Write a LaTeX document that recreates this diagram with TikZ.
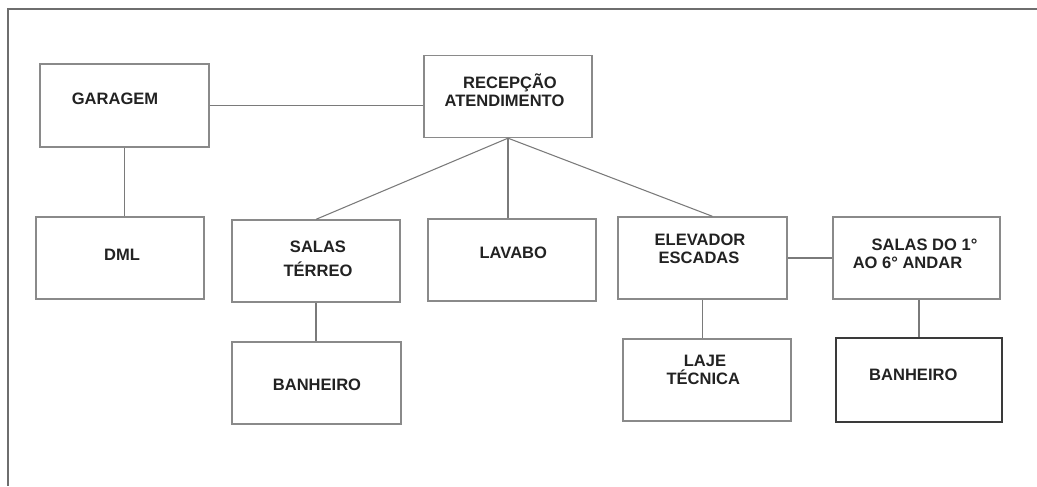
\documentclass[tikz,border=0pt]{standalone}
\usepackage{fontspec}
\setmainfont{Liberation Sans}
\definecolor{framegray}{HTML}{6E6E6E}
\definecolor{boxgray}{HTML}{8A8A8A}
\definecolor{darkbox}{HTML}{3A3A3A}
\definecolor{linegray}{HTML}{7A7A7A}
\definecolor{textgray}{HTML}{222222}
\begin{document}
\begin{tikzpicture}[x={(0.75pt,0)},y={(0,-0.75pt)},
  box/.style={draw=boxgray,line width=1pt,minimum width=126pt,minimum height=61.5pt,inner sep=0pt},
  txt/.style={font=\fontsize{12.4pt}{14pt}\selectfont\bfseries,text=textgray,anchor=base,inner sep=0pt},
  conn/.style={draw=linegray,line width=0.8pt},
  framel/.style={draw=framegray,line width=1.2pt}]
\useasboundingbox (0,0) rectangle (1037,486);
% frame
\coordinate (fc) at (8,9);
\coordinate (fr) at (1037,9);
\coordinate (fb) at (8,486);
\draw[framel] (fr) -- (fc) -- (fb);
% boxes
\node[box,minimum width=126.75pt,minimum height=62.25pt] (g) at (124.5,105.5) {};
\node[box,minimum height=61.5pt] (r) at (508,96.5) {};
\node[box] (d) at (120,258) {};
\node[box] (st) at (316,261) {};
\node[box,minimum width=126.75pt] (b1) at (316.5,383) {};
\node[box] (lav) at (512,260) {};
\node[box,minimum width=126.75pt] (e) at (702.5,258) {};
\node[box] (lj) at (707,380) {};
\node[box,minimum width=125.25pt] (s6) at (916.5,258) {};
\node[box,draw=darkbox,minimum width=124.5pt,minimum height=63pt] (b2) at (919,380) {};
% texts
\node[txt] (tg) at (115,104.7) {GARAGEM};
\node[txt] (tr1) at (510,88.3) {RECEPÇÃO};
\node[txt] (tr2) at (504.5,106.5) {ATENDIMENTO};
\node[txt] (td) at (122,260) {DML};
\node[txt] (ts1) at (318,252.7) {SALAS};
\node[txt] (ts2) at (318,276) {TÉRREO};
\node[txt] (tb1) at (317,390.7) {BANHEIRO};
\node[txt] (tl) at (513.3,258.3) {LAVABO};
\node[txt] (te1) at (700,245) {ELEVADOR};
\node[txt] (te2) at (699,263.3) {ESCADAS};
\node[txt] (tj1) at (705,366) {LAJE};
\node[txt] (tj2) at (703.3,384.7) {TÉCNICA};
\node[txt] (t61) at (924.5,250) {SALAS DO 1°};
\node[txt] (t62) at (907.5,268.3) {AO 6° ANDAR};
\node[txt] (tb2) at (913.3,380.7) {BANHEIRO};
% connectors
\draw[conn] (g.east) -- (g.east -| r.west);
\draw[conn] (g.south) -- (g.south |- d.north);
\draw[conn] (r.south) -- (st.north);
\draw[conn] (r.south) -- (r.south |- lav.north);
\draw[conn] (r.south) -- ([xshift=7.5pt]e.north);
\draw[conn] (st.south) -- (st.south |- b1.north);
\draw[conn] (e.south) -- (e.south |- lj.north);
\draw[conn] (e.east) -- (e.east -| s6.west);
\draw[conn] (b2.north |- s6.south) -- (b2.north);
\end{tikzpicture}
\end{document}
